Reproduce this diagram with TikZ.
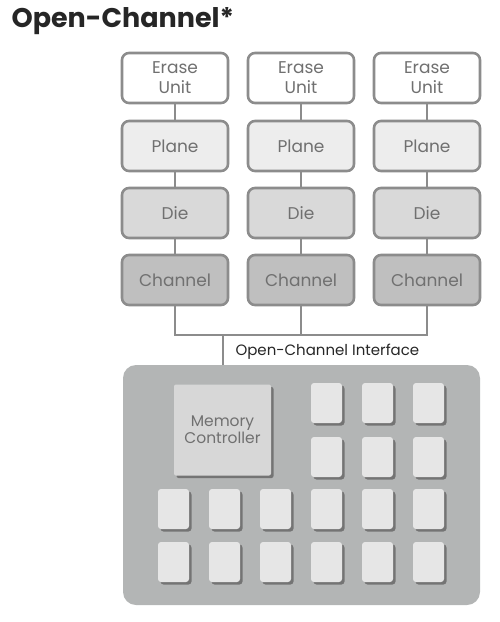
\documentclass[tikz,border=0pt]{standalone}
\usepackage{fontspec}
\setmainfont{Poppins}
\usetikzlibrary{shadows}
\definecolor{edge}{HTML}{8C8C8C}
\definecolor{txt}{HTML}{707070}
\definecolor{fErase}{HTML}{FFFFFF}
\definecolor{fPlane}{HTML}{EDEDED}
\definecolor{fDie}{HTML}{D9D9D9}
\definecolor{fChan}{HTML}{BFBFBF}
\definecolor{ssdfill}{HTML}{B3B5B5}
\definecolor{chipfill}{HTML}{E6E6E6}
\definecolor{mcfill}{HTML}{D7D7D7}
\definecolor{shade}{HTML}{6E6E6E}
\tikzset{
  levelbox/.style={draw=edge, line width=2.6pt, rounded corners=7pt,
    minimum width=106pt, minimum height=50pt, inner sep=0pt,
    text=txt, font=\fontsize{17}{19}\selectfont, align=center},
  link/.style={draw=edge, line width=1.8pt},
  chip/.style={fill=chipfill, rounded corners=3pt, minimum width=31pt,
    minimum height=40pt, inner sep=0pt,
    drop shadow={fill=shade, opacity=0.9, shadow xshift=2.5pt, shadow yshift=-2.5pt}},
}
\begin{document}
\begin{tikzpicture}[x=1pt,y=-1pt]
\useasboundingbox (0,0) rectangle (500,622);
\node[anchor=west, font=\fontsize{27}{30}\selectfont\bfseries, text=black!85] (title) at (8,21) {Open-Channel*};

\foreach \i/\x in {1/175,2/301,3/427}{
  \node[levelbox, fill=fErase] (e\i) at (\x,78) {Erase\\[1pt]Unit};
  \node[levelbox, fill=fPlane] (p\i) at (\x,146) {Plane};
  \node[levelbox, fill=fDie] (d\i) at (\x,213) {Die};
  \node[levelbox, fill=fChan] (c\i) at (\x,280) {Channel};
}
\foreach \i in {1,2,3}{
  \draw[link] (e\i) -- (p\i);
  \draw[link] (p\i) -- (d\i);
  \draw[link] (d\i) -- (c\i);
}
\node[fill=ssdfill, rounded corners=13pt, minimum width=357pt, minimum height=240pt, inner sep=0pt] (ssd) at (301.5,485) {};
\coordinate (b1) at (175,335);
\coordinate (b3) at (427,335);
\coordinate (bj) at (223,335);
\draw[link] (c1.south) -- (b1) -- (b3) -- (c3.south);
\draw[link] (c2.south) -- (c2.south |- b1);
\draw[link] (bj) -- (bj |- ssd.north);
\node[anchor=west, font=\fontsize{15}{17}\selectfont, text=black!85] (iface) at (232,352) {Open-Channel Interface};

\node[fill=mcfill, rounded corners=2pt, minimum width=97pt, minimum height=91pt, inner sep=0pt,
  text=txt, font=\fontsize{15.5}{18}\selectfont, align=center,
  drop shadow={fill=shade, opacity=0.9, shadow xshift=2.5pt, shadow yshift=-2.5pt}] (mc) at (222.5,430) {Memory\\[-1pt]Controller};

\foreach \c/\x in {4/326.5,5/377.5,6/428.5}{
  \node[chip] (k1\c) at (\x,403) {};
  \node[chip] (k2\c) at (\x,457) {};
}
\foreach \c/\x in {1/173.5,2/224.5,3/275.5,4/326.5,5/377.5,6/428.5}{
  \node[chip] (k3\c) at (\x,509) {};
  \node[chip] (k4\c) at (\x,562) {};
}
\end{tikzpicture}
\end{document}
